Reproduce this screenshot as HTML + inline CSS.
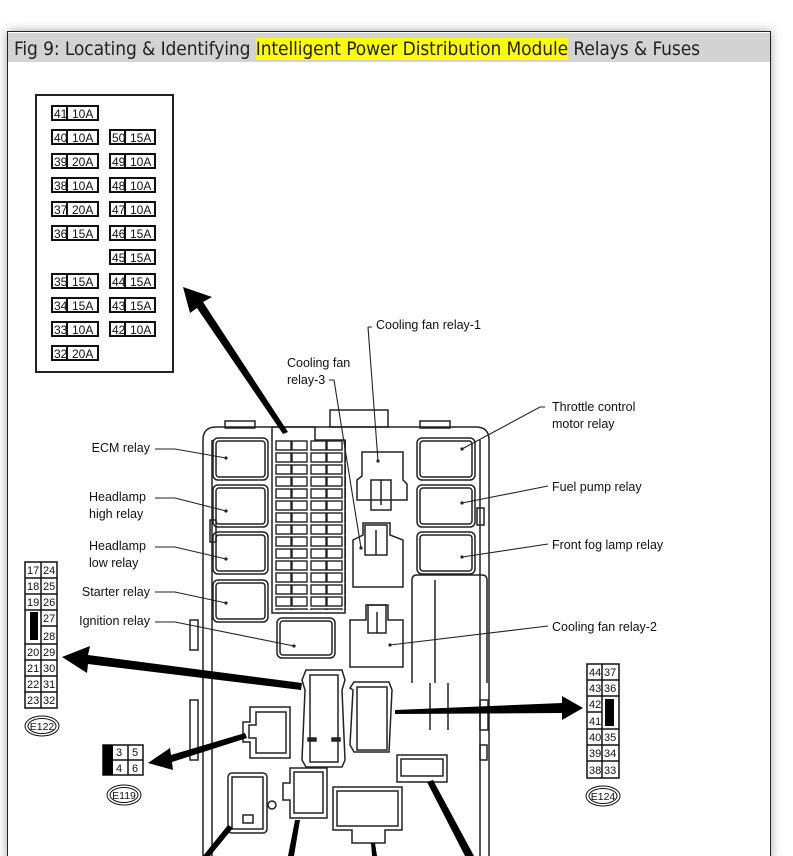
<!DOCTYPE html>
<html><head><meta charset="utf-8"><style>
html{overflow:hidden;height:856px;}
html,body{margin:0;padding:0;background:#fff;}
body{width:793px;height:856px;overflow:hidden;position:relative;font-family:"Liberation Sans",sans-serif;}
.wrap{position:absolute;left:0;top:0;width:793px;height:856px;overflow:hidden;}
.frame{position:absolute;left:7px;top:31px;width:762px;height:830px;border:1px solid #222;border-bottom:none;box-shadow:0 0 10px rgba(0,0,0,.35);background:#fff;}
.title{position:absolute;left:0;top:1px;width:762px;height:29px;background:#d3d3d3;font-size:19px;line-height:32px;color:#222;padding-left:6px;box-sizing:border-box;white-space:nowrap;font-family:"DejaVu Sans Condensed","Liberation Sans Narrow","Liberation Sans",sans-serif;letter-spacing:-0.1px}
.hl{background:#ffff00;}
svg{position:absolute;left:0;top:0;}
</style></head><body><div class="wrap">
<div class="frame"><div class="title">Fig 9: Locating &amp; Identifying <span class="hl">Intelligent Power Distribution Module</span> Relays &amp; Fuses</div></div>
<svg width="793" height="856" viewBox="0 0 793 856" font-family="Liberation Sans, sans-serif">
<defs>
<pattern id="fz" x="275" y="440" width="35" height="12" patternUnits="userSpaceOnUse">
<rect x="1" y="1" width="15" height="9" fill="#fff" stroke="#222" stroke-width="1.4"/>
<rect x="17" y="1" width="15" height="9" fill="#fff" stroke="#222" stroke-width="1.4"/>
</pattern>
</defs>
<g fill="none" stroke="#222" stroke-width="1.5">
<rect x="36" y="95" width="137" height="277" stroke-width="2"/>
</g>
<g font-size="11" fill="#111" stroke="#111" stroke-width="2">
<rect x="52" y="106" width="46" height="14" fill="#fff"/><line x1="67" y1="106" x2="67" y2="120"/>
<rect x="52" y="130" width="46" height="14" fill="#fff"/><line x1="67" y1="130" x2="67" y2="144"/>
<rect x="52" y="154" width="46" height="14" fill="#fff"/><line x1="67" y1="154" x2="67" y2="168"/>
<rect x="52" y="178" width="46" height="14" fill="#fff"/><line x1="67" y1="178" x2="67" y2="192"/>
<rect x="52" y="202" width="46" height="14" fill="#fff"/><line x1="67" y1="202" x2="67" y2="216"/>
<rect x="52" y="226" width="46" height="14" fill="#fff"/><line x1="67" y1="226" x2="67" y2="240"/>
<rect x="52" y="274" width="46" height="14" fill="#fff"/><line x1="67" y1="274" x2="67" y2="288"/>
<rect x="52" y="298" width="46" height="14" fill="#fff"/><line x1="67" y1="298" x2="67" y2="312"/>
<rect x="52" y="322" width="46" height="14" fill="#fff"/><line x1="67" y1="322" x2="67" y2="336"/>
<rect x="52" y="346" width="46" height="14" fill="#fff"/><line x1="67" y1="346" x2="67" y2="360"/>
<rect x="110" y="130" width="45" height="14" fill="#fff"/><line x1="125" y1="130" x2="125" y2="144"/>
<rect x="110" y="154" width="45" height="14" fill="#fff"/><line x1="125" y1="154" x2="125" y2="168"/>
<rect x="110" y="178" width="45" height="14" fill="#fff"/><line x1="125" y1="178" x2="125" y2="192"/>
<rect x="110" y="202" width="45" height="14" fill="#fff"/><line x1="125" y1="202" x2="125" y2="216"/>
<rect x="110" y="226" width="45" height="14" fill="#fff"/><line x1="125" y1="226" x2="125" y2="240"/>
<rect x="110" y="250" width="45" height="14" fill="#fff"/><line x1="125" y1="250" x2="125" y2="264"/>
<rect x="110" y="274" width="45" height="14" fill="#fff"/><line x1="125" y1="274" x2="125" y2="288"/>
<rect x="110" y="298" width="45" height="14" fill="#fff"/><line x1="125" y1="298" x2="125" y2="312"/>
<rect x="110" y="322" width="45" height="14" fill="#fff"/><line x1="125" y1="322" x2="125" y2="336"/>
</g>
<g font-size="12" fill="#111" font-family="Liberation Sans Narrow, Liberation Sans, sans-serif">
<text x="54" y="118">41</text><text x="72" y="118">10A</text>
<text x="54" y="142">40</text><text x="72" y="142">10A</text>
<text x="54" y="166">39</text><text x="72" y="166">20A</text>
<text x="54" y="190">38</text><text x="72" y="190">10A</text>
<text x="54" y="214">37</text><text x="72" y="214">20A</text>
<text x="54" y="238">36</text><text x="72" y="238">15A</text>
<text x="54" y="286">35</text><text x="72" y="286">15A</text>
<text x="54" y="310">34</text><text x="72" y="310">15A</text>
<text x="54" y="334">33</text><text x="72" y="334">10A</text>
<text x="54" y="358">32</text><text x="72" y="358">20A</text>
<text x="112" y="142">50</text><text x="130" y="142">15A</text>
<text x="112" y="166">49</text><text x="130" y="166">10A</text>
<text x="112" y="190">48</text><text x="130" y="190">10A</text>
<text x="112" y="214">47</text><text x="130" y="214">10A</text>
<text x="112" y="238">46</text><text x="130" y="238">15A</text>
<text x="112" y="262">45</text><text x="130" y="262">15A</text>
<text x="112" y="286">44</text><text x="130" y="286">15A</text>
<text x="112" y="310">43</text><text x="130" y="310">15A</text>
<text x="112" y="334">42</text><text x="130" y="334">10A</text>
</g>

<g fill="none" stroke="#222" stroke-width="1.5">
<path d="M203 856 L203 440 Q203 427 216 427 L476 427 Q489 427 489 440 L489 856"/>
<path d="M212 856 L212 440 M480 440 L480 856"/>
<rect x="225" y="421" width="30" height="7"/><rect x="420" y="421" width="30" height="7"/>
<rect x="330" y="410" width="58" height="17"/>
<rect x="213" y="438" width="55" height="42" rx="5"/><rect x="216" y="441" width="49" height="36" rx="3"/>
<rect x="213" y="485" width="55" height="42" rx="5"/><rect x="216" y="488" width="49" height="36" rx="3"/>
<rect x="213" y="532" width="55" height="42" rx="5"/><rect x="216" y="535" width="49" height="36" rx="3"/>
<rect x="213" y="580" width="55" height="42" rx="5"/><rect x="216" y="583" width="49" height="36" rx="3"/>
<rect x="417" y="438" width="58" height="42" rx="5"/><rect x="420" y="441" width="52" height="36" rx="3"/>
<rect x="417" y="485" width="58" height="42" rx="5"/><rect x="420" y="488" width="52" height="36" rx="3"/>
<rect x="417" y="532" width="58" height="42" rx="5"/><rect x="420" y="535" width="52" height="36" rx="3"/>
<rect x="477" y="508" width="7" height="17"/>
<path d="M272 427 L272 613 L345 613 L345 440 L315 440 L315 427 Z"/>
<rect x="274" y="440" width="72" height="170" fill="url(#fz)" stroke="none"/>
<rect x="277" y="618" width="58" height="40" rx="5"/><rect x="280" y="621" width="52" height="34" rx="3"/>
<path d="M362 452 L403 452 L403 480 L407 484 L407 500 L357 500 L357 480 L362 476 Z"/>
<rect x="371" y="480" width="20" height="30"/><line x1="381" y1="480" x2="381" y2="505"/>
<path d="M353 540 L363 535 L363 523 L390 523 L390 535 L403 540 L403 587 L353 587 Z"/>
<rect x="365" y="525" width="22" height="30"/><line x1="376" y1="530" x2="376" y2="555"/>
<path d="M350 620 L366 620 L366 605 L388 605 L388 620 L403 620 L403 667 L350 667 Z"/>
<rect x="368" y="605" width="18" height="28"/><line x1="377" y1="612" x2="377" y2="633"/>
<path d="M412 683 L412 580 Q412 575 417 575 L482 575 Q487 575 487 580 L487 683"/>
<line x1="435" y1="580" x2="435" y2="683"/><line x1="448" y1="683" x2="448" y2="730"/><line x1="430" y1="683" x2="430" y2="730"/>
<path d="M306 670 L342 670 L345 680 L342 690 L345 760 L342 767 L306 767 L302 760 L305 690 L302 680 Z"/>
<path d="M310 675 L338 675 L338 762 L310 762 Z"/>
<rect x="308" y="738" width="8" height="3" fill="#222"/><rect x="332" y="738" width="8" height="3" fill="#222"/>
<path d="M354 682 L389 682 L392 690 L389 752 L354 752 L350 745 L353 690 L350 688 Z"/>
<rect x="357" y="687" width="30" height="63"/>
<path d="M250 707 L290 707 L290 758 L250 758 L250 742 L243 742 L243 722 L250 722 Z"/>
<path d="M256 712 L286 712 L286 753 L256 753 L256 738 L249 738 L249 725 L256 725 Z"/>
<rect x="228" y="773" width="39" height="60" rx="4"/><rect x="232" y="777" width="31" height="52"/>
<rect x="243" y="815" width="10" height="8"/>
<circle cx="272" cy="805" r="4"/>
<path d="M290 768 L327 768 L327 818 L290 818 L290 800 L283 800 L283 783 L290 783 Z"/>
<path d="M294 772 L323 772 L323 813 L294 813 Z"/>
<path d="M333 787 L402 787 L402 830 L385 830 L385 843 L352 843 L352 830 L333 830 Z"/>
<rect x="337" y="791" width="61" height="35"/>
<path d="M397 755 L447 755 L447 782 L397 782 Z"/>
<path d="M401 759 L443 759 L443 776 L401 776 Z"/>
<rect x="190" y="620" width="8" height="30"/><rect x="190" y="700" width="8" height="60"/>
<rect x="480" y="700" width="8" height="30"/><rect x="480" y="745" width="7" height="15"/>
<rect x="210" y="520" width="6" height="22"/>
</g>
<g fill="#222">
<circle cx="226" cy="458" r="1.6"/><circle cx="226" cy="511" r="1.6"/><circle cx="226" cy="559" r="1.6"/><circle cx="226" cy="603" r="1.6"/>
<circle cx="294" cy="646" r="1.6"/><circle cx="462" cy="449" r="1.6"/><circle cx="462" cy="503" r="1.6"/><circle cx="462" cy="557" r="1.6"/>
<circle cx="390" cy="645" r="1.6"/><circle cx="378" cy="461" r="1.6"/><circle cx="361" cy="548" r="1.6"/>
</g>
<g fill="none" stroke="#222" stroke-width="1.1">
<path d="M368 327 L372 327 M368 327 L378 461"/>
<path d="M329 380 L334 380 L361 548"/>
<path d="M545 407 L540 407 L462 449"/>
<path d="M548 486 L462 503"/>
<path d="M548 544 L462 557"/>
<path d="M548 626 L390 645"/>
<path d="M155 449 L175 449 L226 458"/>
<path d="M155 498 L175 498 L226 511"/>
<path d="M155 547 L175 547 L226 559"/>
<path d="M155 592 L175 592 L226 603"/>
<path d="M155 622 L175 622 L294 646"/>
</g>
<g font-size="12.5" fill="#111">
<text x="376" y="329">Cooling fan relay-1</text>
<text x="287" y="367">Cooling fan</text><text x="287" y="384">relay-3</text>
<text x="552" y="411">Throttle control</text><text x="552" y="428">motor relay</text>
<text x="552" y="491">Fuel pump relay</text>
<text x="552" y="549">Front fog lamp relay</text>
<text x="552" y="631">Cooling fan relay-2</text>
<text x="150" y="452" text-anchor="end">ECM relay</text>
<text x="89" y="501">Headlamp</text><text x="89" y="518">high relay</text>
<text x="89" y="550">Headlamp</text><text x="89" y="567">low relay</text>
<text x="150" y="596" text-anchor="end">Starter relay</text>
<text x="150" y="625" text-anchor="end">Ignition relay</text>
</g>
<g fill="#000" stroke="none">
<polygon points="183,287 212,297 203,302 288,432 283,434 197,308 190,313"/>
<polygon points="62,657 90,646 88,655 302,683 301,690 88,664 87,673"/>
<polygon points="148,763 170,748 171,755 245,733 247,738 172,762 173,770"/>
<polygon points="583,708 562,720 562,713 395,714 395,710 562,703 562,696"/>
<polygon points="228,825 233,828 210,856 203,856"/>
<polygon points="295,820 300,820 294,856 288,856"/>
<polygon points="371,843 375,843 377,856 372,856"/>
<polygon points="427,782 433,780 474,856 465,856"/>
</g>
<g stroke="#111" stroke-width="1.5" fill="#fff">
<rect x="25" y="562" width="32" height="146"/>
<line x1="41" y1="562" x2="41" y2="708"/>
<line x1="25" y1="578" x2="57" y2="578"/><line x1="25" y1="594" x2="57" y2="594"/><line x1="25" y1="610" x2="57" y2="610"/>
<line x1="41" y1="626" x2="57" y2="626"/><line x1="25" y1="644" x2="57" y2="644"/><line x1="25" y1="660" x2="57" y2="660"/><line x1="25" y1="676" x2="57" y2="676"/><line x1="25" y1="692" x2="57" y2="692"/>
</g>
<rect x="30" y="612" width="8" height="28" fill="#000"/>
<g font-size="11" fill="#111" font-family="Liberation Sans Narrow, Liberation Sans, sans-serif">
<text x="27" y="574">17</text><text x="43" y="574">24</text>
<text x="27" y="590">18</text><text x="43" y="590">25</text>
<text x="27" y="606">19</text><text x="43" y="606">26</text>
<text x="43" y="622">27</text><text x="43" y="640">28</text>
<text x="27" y="656">20</text><text x="43" y="656">29</text>
<text x="27" y="672">21</text><text x="43" y="672">30</text>
<text x="27" y="688">22</text><text x="43" y="688">31</text>
<text x="27" y="704">23</text><text x="43" y="704">32</text>
</g>
<g fill="none" stroke="#111" stroke-width="1"><ellipse cx="42" cy="726" rx="17" ry="10"/><ellipse cx="42" cy="726" rx="14" ry="7.5"/></g>
<text x="42" y="730" font-size="10.5" text-anchor="middle" fill="#111">E122</text>
<g stroke="#111" stroke-width="1.5" fill="#fff">
<rect x="103" y="745" width="40" height="30"/>
<line x1="128" y1="745" x2="128" y2="775"/><line x1="113" y1="760" x2="143" y2="760"/>
</g>
<rect x="103" y="745" width="10" height="30" fill="#000"/>
<g font-size="11" fill="#111"><text x="116" y="756">3</text><text x="132" y="756">5</text><text x="116" y="772">4</text><text x="132" y="772">6</text></g>
<g fill="none" stroke="#111" stroke-width="1"><ellipse cx="124" cy="795" rx="17" ry="10"/><ellipse cx="124" cy="795" rx="14" ry="7.5"/></g>
<text x="124" y="799" font-size="10.5" text-anchor="middle" fill="#111">E119</text>
<g stroke="#111" stroke-width="1.5" fill="#fff">
<rect x="587" y="664" width="32" height="114"/>
<line x1="602" y1="664" x2="602" y2="778"/>
<line x1="587" y1="680" x2="619" y2="680"/><line x1="587" y1="696" x2="619" y2="696"/><line x1="587" y1="712" x2="602" y2="712"/>
<line x1="587" y1="729" x2="619" y2="729"/><line x1="587" y1="745" x2="619" y2="745"/><line x1="587" y1="761" x2="619" y2="761"/>
</g>
<rect x="605" y="699" width="9" height="27" fill="#000"/>
<g font-size="11" fill="#111" font-family="Liberation Sans Narrow, Liberation Sans, sans-serif">
<text x="589" y="676">44</text><text x="604" y="676">37</text>
<text x="589" y="692">43</text><text x="604" y="692">36</text>
<text x="589" y="708">42</text><text x="589" y="725">41</text>
<text x="589" y="741">40</text><text x="604" y="741">35</text>
<text x="589" y="757">39</text><text x="604" y="757">34</text>
<text x="589" y="774">38</text><text x="604" y="774">33</text>
</g>
<g fill="none" stroke="#111" stroke-width="1"><ellipse cx="603" cy="796" rx="17" ry="10"/><ellipse cx="603" cy="796" rx="14" ry="7.5"/></g>
<text x="603" y="800" font-size="10.5" text-anchor="middle" fill="#111">E124</text>
</svg>
</div></body></html>
